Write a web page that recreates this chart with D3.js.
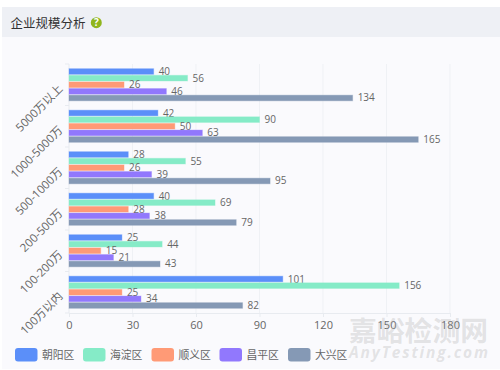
<!DOCTYPE html>
<html><head><meta charset="utf-8">
<script src="https://cdnjs.cloudflare.com/ajax/libs/d3/7.8.5/d3.min.js"></script>
<style>html,body{margin:0;padding:0;background:#fff}svg{display:block}text{font-family:"Open Sans","Noto Sans CJK SC",sans-serif}</style>
</head><body><svg id="c" width="500" height="370"></svg>
<script>
const categories=["5000万以上","1000-5000万","500-1000万","200-500万","100-200万","100万以内"];
const seriesNames=["朝阳区","海淀区","顺义区","昌平区","大兴区"];
const colors=["#5b8ff9","#85ebc7","#ff9a76","#9178fd","#8599b5"];
const chaoyang=[40,42,28,40,25,101];
const haidian=[56,90,55,69,44,156];
const shunyi=[26,50,26,28,15,25];
const changping=[46,63,39,38,21,34];
const daxing=[134,165,95,79,43,82];
const allSeries=[chaoyang,haidian,shunyi,changping,daxing];
const xTicks=[0,30,60,90,120,150,180];

const svg=d3.select("#c");
svg.append("rect").attr("x",2).attr("y",37).attr("width",498).attr("height",332).attr("fill","#fafafd");
svg.append("rect").attr("x",2).attr("y",7).attr("width",498).attr("height",30).attr("fill","#eef0f5");
svg.append("text").attr("x",10.5).attr("y",27.5).attr("font-size",12.5).attr("fill","#333").text("企业规模分析");
svg.append("circle").attr("cx",96.3).attr("cy",22.7).attr("r",5.5).attr("fill","#8fb51c");
svg.append("text").attr("x",96.3).attr("y",26.3).attr("text-anchor","middle").attr("font-size",10).attr("font-weight","bold").attr("fill","#fff").text("?");

const x=d3.scaleLinear().domain([0,180]).range([69,450]);
const y=d3.scaleBand().domain(categories).range([64,313]);
const inner=d3.scaleBand().domain(seriesNames).range([4.2,37.3]);

svg.append("g").selectAll("line").data(xTicks.slice(1)).join("line")
 .attr("x1",d=>x(d)).attr("x2",d=>x(d)).attr("y1",64).attr("y2",313).attr("stroke","#eff1f5");

const gy=svg.append("g").attr("transform","translate(69,0)").call(d3.axisLeft(y).tickSize(0).tickPadding(9));
gy.select(".domain").attr("stroke","#e8ebf0").attr("d","M0,64V313");
gy.selectAll("text").attr("font-size",11.5).attr("fill","#666").attr("text-anchor","end")
 .attr("transform","rotate(-45,-6,0)");
svg.append("g").selectAll("line").data(d3.range(7)).join("line")
 .attr("x1",65).attr("x2",69).attr("y1",i=>64+i*y.step()).attr("y2",i=>64+i*y.step()).attr("stroke","#e8ebf0");

const gx=svg.append("g").attr("transform","translate(0,313)").call(d3.axisBottom(x).tickValues(xTicks).tickSize(4).tickPadding(4));
gx.select(".domain").attr("stroke","#e8ebf0");
gx.selectAll("line").attr("stroke","#e8ebf0");
gx.selectAll("text").attr("font-size",11).attr("fill","#666");

allSeries.forEach((vals,s)=>{
 const g=svg.append("g");
 const name=seriesNames[s];
 g.selectAll("rect").data(vals).join("rect")
  .attr("x",x(0)).attr("y",(d,i)=>y(categories[i])+inner(name)+0.5)
  .attr("width",d=>x(d)-x(0)).attr("height",inner.bandwidth()-1)
  .attr("fill",colors[s]).attr("stroke",colors[s]).attr("stroke-opacity",0.35);
 g.selectAll("text").data(vals).join("text")
  .attr("x",d=>x(d)+5).attr("y",(d,i)=>y(categories[i])+inner(name)+inner.bandwidth()/2)
  .attr("dy","0.35em").attr("font-size",10).attr("fill","#666").text(d=>d);
});

const legX=[15,83,151.5,219.5,288];
const lg=svg.append("g").selectAll("g").data(seriesNames).join("g").attr("transform",(d,i)=>`translate(${legX[i]},348)`);
lg.append("rect").attr("width",22.5).attr("height",13.5).attr("rx",3).attr("fill",(d,i)=>colors[i]);
lg.append("text").attr("x",27).attr("y",11).attr("font-size",10.8).attr("fill","#666").text(d=>d);

svg.append("text").attr("x",349).attr("y",341).attr("font-size",27.8).attr("font-weight","bold").attr("fill","#aaa").attr("fill-opacity",0.3).text("嘉峪检测网");
svg.append("text").attr("x",349).attr("y",358).attr("font-size",15.5).attr("font-weight","bold").attr("font-style","italic").attr("fill","#aaa").attr("fill-opacity",0.3).attr("textLength",139).attr("lengthAdjust","spacing").text("AnyTesting.com");
</script></body></html>
